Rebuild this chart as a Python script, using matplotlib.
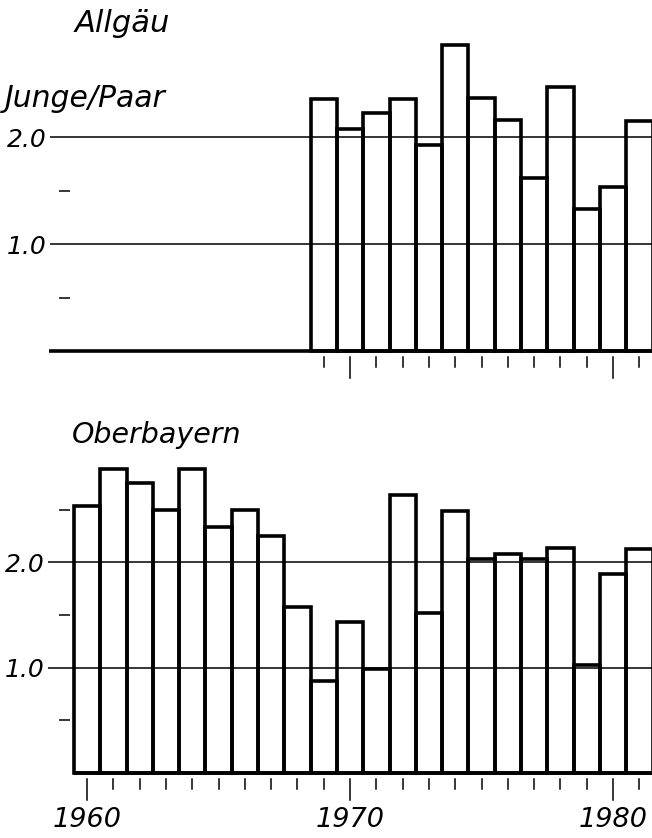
import matplotlib
matplotlib.use('Agg')
import matplotlib.pyplot as plt

# Junge/Paar per year
allgaeu_years = list(range(1969, 1982))
allgaeu_values = [2.36, 2.08, 2.23, 2.36, 1.93, 2.86, 2.37, 2.16, 1.62, 2.47, 1.33, 1.53, 2.15]

oberbayern_years = list(range(1960, 1982))
oberbayern_values = [2.54, 2.89, 2.75, 2.50, 2.89, 2.34, 2.50, 2.25, 1.58, 0.87, 1.43,
                     0.99, 2.64, 1.52, 2.49, 2.03, 2.08, 2.03, 2.14, 1.03, 1.89, 2.13]

major_values = [1.0, 2.0]
major_labels = ['1.0', '2.0']
decade_years = [1960, 1970, 1980]

FONT = dict(family='DejaVu Sans', style='italic')
XMIN, XMAX = 1956.69, 1981.48


def draw_panel(ax, years, values, ylim, grid_start, base_start, minor, year_labels=False):
    ax.set_xlim(XMIN, XMAX)
    ax.set_ylim(*ylim)
    ax.axis('off')

    ax.bar(years, values, width=1.0, fill=False, edgecolor='black', linewidth=2.6,
           joinstyle='miter')
    ax.plot([base_start, XMAX], [0, 0], color='black', linewidth=2.6, solid_capstyle='butt')
    ax.hlines(major_values, grid_start, XMAX, color='black', linewidth=1.1)

    # short dashes at the half steps
    ax.hlines(minor, 1958.93, 1959.35, color='black', linewidth=1.1)

    for v, lab in zip(major_values, major_labels):
        ax.text(grid_start - 0.12, v, lab, ha='right', va='center_baseline', fontsize=18, **FONT)

    # year ticks below the base line
    for y in years:
        low = -0.255 if y in decade_years else -0.152
        ax.plot([y, y], [-0.057, low], color='black', linewidth=1.1, clip_on=False)
        if year_labels and y in decade_years:
            ax.text(y, -0.45, str(y), ha='center', va='center', fontsize=19.5, **FONT)


fig = plt.figure(figsize=(6.52, 8.38), dpi=100)

ax1 = fig.add_axes([0, 418 / 838, 1, 420 / 838])
draw_panel(ax1, allgaeu_years, allgaeu_values, (-0.645, 3.283),
           grid_start=1958.59, base_start=1958.55, minor=[0.5, 1.5])
ax1.text(75 / 652, 1 - 32 / 420, 'Allgäu', transform=ax1.transAxes, ha='left',
         va='baseline', fontsize=22, **FONT)
ax1.text(5 / 652, 1 - 107 / 420, 'Junge/Paar', transform=ax1.transAxes, ha='left',
         va='baseline', fontsize=21.5, **FONT)

ax2 = fig.add_axes([0, 0, 1, 408 / 838])
draw_panel(ax2, oberbayern_years, oberbayern_values, (-0.617, 3.257),
           grid_start=1958.52, base_start=oberbayern_years[0] - 0.5, minor=[0.5, 1.5, 2.5],
           year_labels=True)
ax2.text(72 / 652, 1 - (443 - 430) / 408, 'Oberbayern', transform=ax2.transAxes, ha='left',
         va='baseline', fontsize=20.5, **FONT)

fig.savefig('out.png', dpi=100, facecolor='white')
